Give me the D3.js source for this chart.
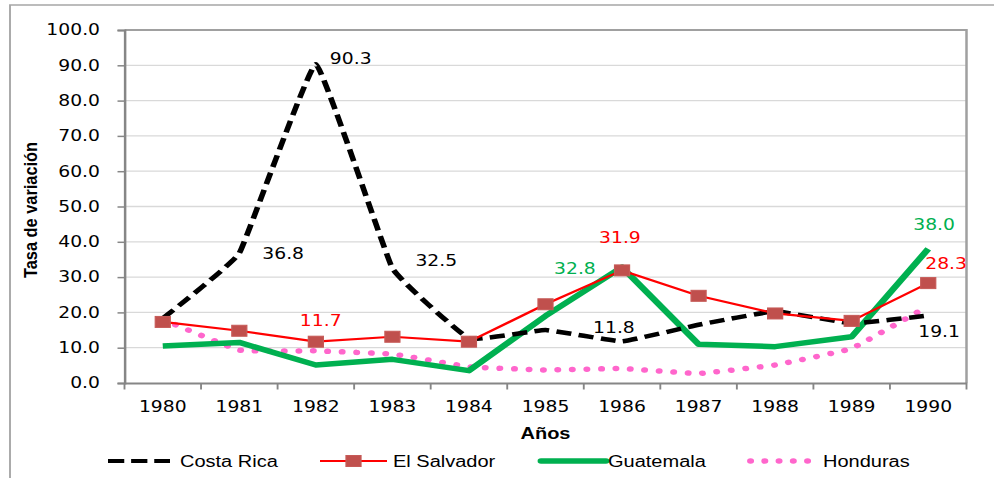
<!DOCTYPE html>
<html><head><meta charset="utf-8">
<script src="https://cdn.jsdelivr.net/npm/d3@7"></script>
<style>body{margin:0;background:#fff}svg{display:block}</style>
</head><body>
<svg id="c" width="994" height="478" viewBox="0 0 795.2 478" preserveAspectRatio="none"></svg>
<script>
// ---- data ----
const years = ["1980","1981","1982","1983","1984","1985","1986","1987","1988","1989","1990"];
const costaRica  = [18.3, 36.8, 90.3, 32.5, 12.6, 15.0, 11.8, 16.5, 20.3, 16.9, 19.1];
const elSalvador = [17.3, 14.8, 11.7, 13.1, 11.7, 22.3, 31.9, 24.7, 19.7, 17.6, 28.3];
const guatemala  = [10.5, 11.5, 5.1, 6.7, 3.5, 19.0, 32.8, 11.0, 10.3, 13.1, 38.0];
const honduras   = [18.0, 9.3, 9.1, 8.2, 4.6, 3.7, 4.1, 2.7, 5.1, 9.8, 21.8];
const yTicks = [0,10,20,30,40,50,60,70,80,90,100];
const seriesNames = ["Costa Rica","El Salvador","Guatemala","Honduras"];
const yTitle = "Tasa de variación";
const xTitle = "Años";

// ---- layout (viewBox units, x is stretched 1.25 on screen) ----
const K = 1.25;
const L = 124.5 / K, R = 966.5 / K, T = 30, B = 383;
const svg = d3.select("#c");

const x = d3.scaleBand().domain(years).range([L, R]).padding(0);
const xc = d => x(d) + x.bandwidth() / 2;
const y = d3.scaleLinear().domain([0, 100]).range([B, T]);

// outer border
svg.append("rect").attr("x", 8).attr("y", 5).attr("width", 1000).attr("height", 600)
  .attr("fill", "none").attr("stroke", "#a6a6a6").attr("stroke-width", 1.5);

// gridlines
svg.append("g").selectAll("line").data(yTicks.filter(v => v > 0 && v < 100)).join("line")
  .attr("x1", L).attr("x2", R).attr("y1", d => y(d)).attr("y2", d => y(d))
  .attr("stroke", "#d9d9d9").attr("stroke-width", 1.3);

// plot border (top & right)
svg.append("path").attr("d", `M${L},${T}H${R}V${B}`).attr("fill", "none")
  .attr("stroke", "#a0a0a0").attr("stroke-width", 2);

// y axis
const yAxis = svg.append("g").attr("transform", `translate(${L},0)`)
  .call(d3.axisLeft(y).tickValues(yTicks).tickFormat(d => d.toFixed(1)).tickSize(5.6).tickPadding(14));
yAxis.select(".domain").attr("stroke", "#868686").attr("stroke-width", 2);
yAxis.selectAll(".tick line").attr("stroke", "#868686").attr("stroke-width", 1.5);
yAxis.selectAll("text").attr("font-family", "DejaVu Sans").attr("font-size", 15).attr("fill", "#000");

// x axis
const xAxis = svg.append("g").attr("transform", `translate(0,${B})`)
  .call(d3.axisBottom(x).tickSize(0).tickPadding(18.3));
xAxis.select(".domain").attr("stroke", "#868686").attr("stroke-width", 2);
xAxis.selectAll("text").attr("font-family", "DejaVu Sans").attr("font-size", 15).attr("fill", "#000");
const bounds = years.map(d => x(d)).concat([R]);
svg.append("g").selectAll("line").data(bounds).join("line")
  .attr("x1", d => d).attr("x2", d => d).attr("y1", B).attr("y2", B + 6.5)
  .attr("stroke", "#868686").attr("stroke-width", 1.5);

// axis titles
svg.append("text").attr("transform", `translate(29.4,210) rotate(-90)`)
  .attr("text-anchor", "middle").attr("font-family", "Liberation Sans Narrow, Liberation Sans")
  .attr("font-weight", "bold").attr("font-size", 14)
  .attr("textLength", 136).attr("lengthAdjust", "spacingAndGlyphs").text(yTitle);
svg.append("text").attr("x", (L + R) / 2).attr("y", 439).attr("text-anchor", "middle")
  .attr("font-family", "Liberation Sans").attr("font-weight", "bold").attr("font-size", 16).text(xTitle);

// ---- series ----
const smooth = d3.line().x((d, i) => xc(years[i])).y(d => y(d)).curve(d3.curveCardinal.tension(0.75));
const straight = d3.line().x((d, i) => xc(years[i])).y(d => y(d));

svg.append("path").datum(honduras).attr("d", smooth).attr("fill", "none")
  .attr("stroke", "#ff66cc").attr("stroke-width", 5.5).attr("stroke-linecap", "round")
  .attr("stroke-dasharray", "0.1 11.5");
svg.append("path").datum(guatemala).attr("d", straight).attr("fill", "none")
  .attr("stroke", "#00b050").attr("stroke-width", 5.5).attr("stroke-linejoin", "round");
svg.append("path").datum(costaRica).attr("d", smooth).attr("fill", "none")
  .attr("stroke", "#000").attr("stroke-width", 4.5).attr("stroke-dasharray", "12 6");
svg.append("path").datum(elSalvador).attr("d", straight).attr("fill", "none")
  .attr("stroke", "#ff0000").attr("stroke-width", 2.2);
svg.append("g").selectAll("rect").data(elSalvador).join("rect")
  .attr("x", (d, i) => xc(years[i]) - 6).attr("y", d => y(d) - 5.5)
  .attr("width", 12).attr("height", 11)
  .attr("fill", "#c0504d").attr("stroke", "#c65a57").attr("stroke-width", 1);

// ---- data labels ----
const labels = [
  {s: costaRica, i: 2, dx: 14, dy: 0, c: "#000"},
  {s: costaRica, i: 1, dx: 23, dy: 6, c: "#000"},
  {s: costaRica, i: 3, dx: 23, dy: -2, c: "#000"},
  {s: costaRica, i: 6, dx: -29, dy: -8, c: "#000"},
  {s: costaRica, i: 10, dx: -10, dy: 21, c: "#000"},
  {s: elSalvador, i: 2, dx: -16, dy: -16, c: "#ff0000"},
  {s: elSalvador, i: 6, dx: -23, dy: -27, c: "#ff0000"},
  {s: elSalvador, i: 10, dx: -3, dy: -14, c: "#ff0000"},
  {s: guatemala, i: 6, dx: -68, dy: 7, c: "#00b050"},
  {s: guatemala, i: 10, dx: -15, dy: -19, c: "#00b050"}
];
svg.append("g").selectAll("text").data(labels).join("text")
  .attr("x", d => xc(years[d.i]) + d.dx / K).attr("y", d => y(d.s[d.i]) + d.dy)
  .attr("font-family", "DejaVu Sans").attr("font-size", 15).attr("fill", d => d.c)
  .text(d => d.s[d.i].toFixed(1));

// ---- legend ----
const ly = 461, lt = 467;
const lg = svg.append("g");
const leg = [
  {x1: 108, x2: 170, tx: 180},
  {x1: 320, x2: 387, tx: 393},
  {x1: 541, x2: 606, tx: 608},
  {x1: 748, x2: 818, tx: 823}
];
// Costa Rica
lg.append("line").attr("x1", leg[0].x1 / K).attr("x2", leg[0].x2 / K).attr("y1", ly).attr("y2", ly)
  .attr("stroke", "#000").attr("stroke-width", 4).attr("stroke-dasharray", "13 5.5");
// El Salvador
lg.append("line").attr("x1", leg[1].x1 / K).attr("x2", leg[1].x2 / K).attr("y1", ly).attr("y2", ly)
  .attr("stroke", "#ff0000").attr("stroke-width", 2.2);
lg.append("rect").attr("x", (leg[1].x1 + leg[1].x2) / 2 / K - 6).attr("y", ly - 5.5).attr("width", 12).attr("height", 11)
  .attr("fill", "#c0504d").attr("stroke", "#c65a57");
// Guatemala
lg.append("line").attr("x1", leg[2].x1 / K).attr("x2", leg[2].x2 / K).attr("y1", ly).attr("y2", ly)
  .attr("stroke", "#00b050").attr("stroke-width", 5.5).attr("stroke-linecap", "round");
// Honduras
lg.append("line").attr("x1", leg[3].x1 / K + 2).attr("x2", leg[3].x2 / K).attr("y1", ly).attr("y2", ly)
  .attr("stroke", "#ff66cc").attr("stroke-width", 5.5).attr("stroke-linecap", "round").attr("stroke-dasharray", "0.1 11.3");
lg.selectAll("text").data(seriesNames).join("text")
  .attr("x", (d, i) => leg[i].tx / K).attr("y", lt)
  .attr("font-family", "Liberation Sans").attr("font-size", 16).attr("fill", "#000").text(d => d);
</script>
</body></html>
